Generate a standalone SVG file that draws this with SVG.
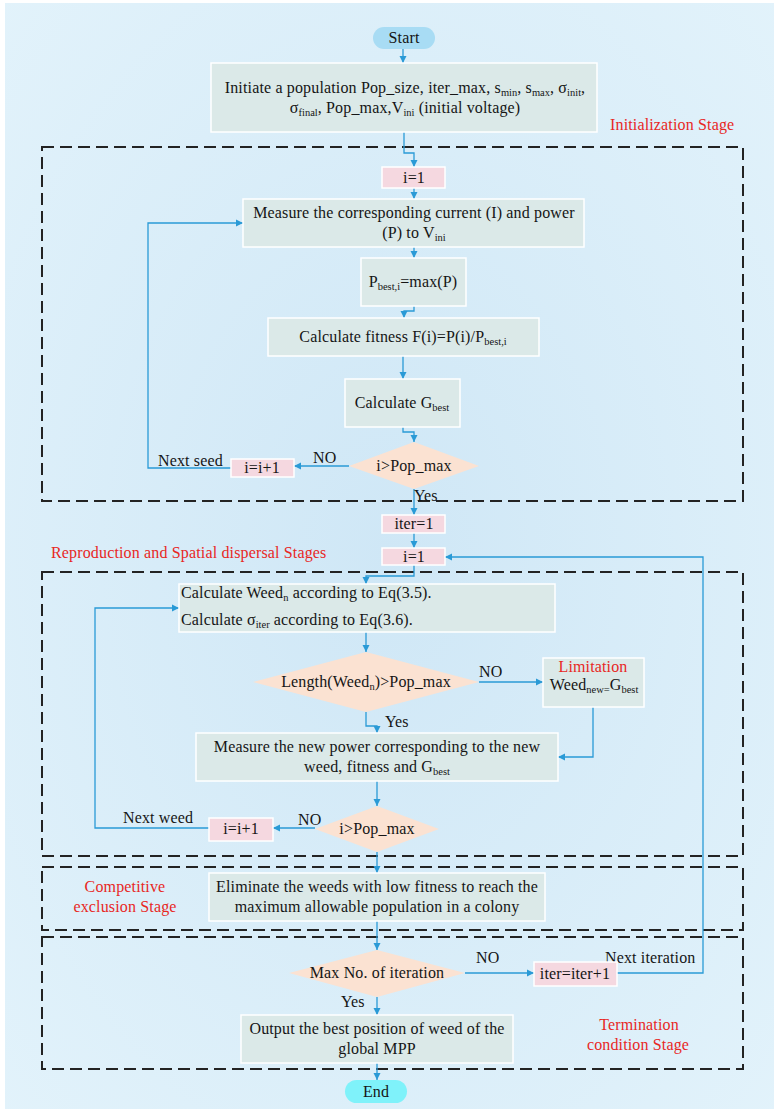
<svg xmlns="http://www.w3.org/2000/svg" width="774" height="1109" viewBox="0 0 774 1109">
<defs>
<radialGradient id="bg" cx="0.5" cy="0.5" r="0.75">
<stop offset="0" stop-color="#cfe7f6"/>
<stop offset="1" stop-color="#e3f3fb"/>
</radialGradient>
<marker id="ah" markerWidth="8" markerHeight="8" refX="7" refY="4" orient="auto" markerUnits="userSpaceOnUse">
<path d="M0,0.5 L7,4 L0,7.5 Z" fill="#2a9ad6"/>
</marker>
<style>
.t{font-family:'Liberation Serif','Tinos','Times New Roman','DejaVu Serif',serif;font-size:16px;letter-spacing:0.15px;fill:#151515}
.c{text-anchor:middle}
.r{fill:#e8271f}
.sub{font-size:10.5px;letter-spacing:0}
.box{fill:#dbe9e8;stroke:#ffffff;stroke-width:1.5}
.dia{fill:#fbe2d2;stroke:none}
.pink{fill:#f5d8e0;stroke:#ffffff;stroke-width:1.5}
.dash{fill:none;stroke:#232323;stroke-width:2;stroke-dasharray:12 6}
.con{fill:none;stroke:#2a9ad6;stroke-width:1.3}
</style>
</defs>
<rect x="0" y="0" width="774" height="1109" fill="#ffffff"/>
<rect x="5" y="3" width="769" height="1106" fill="url(#bg)"/>

<g id="stages">
<rect class="dash" x="42" y="147" width="701" height="354"/>
<rect class="dash" x="42" y="572" width="701" height="284"/>
<rect class="dash" x="42" y="867" width="701" height="63"/>
<rect class="dash" x="42" y="937" width="701" height="132"/>
<text class="t r" x="610" y="130">Initialization Stage</text>
<text class="t r" x="51" y="558">Reproduction and Spatial dispersal Stages</text>
<text class="t r c" x="125" y="892">Competitive</text>
<text class="t r c" x="125" y="912">exclusion Stage</text>
<text class="t r c" x="639" y="1030">Termination</text>
<text class="t r c" x="638" y="1050">condition Stage</text>
</g>

<g id="connectors">
<path class="con" marker-end="url(#ah)" d="M403 49 V63"/>
<path class="con" marker-end="url(#ah)" d="M404 132 V153 H414 V167"/>
<path class="con" marker-end="url(#ah)" d="M414 188 V199"/>
<path class="con" marker-end="url(#ah)" d="M414 247 V258"/>
<path class="con" marker-end="url(#ah)" d="M414 306 V311 H404 V318"/>
<path class="con" marker-end="url(#ah)" d="M403 356 V379"/>
<path class="con" marker-end="url(#ah)" d="M403 427 V432 H414 V442"/>
<path class="con" marker-end="url(#ah)" d="M349 466 H294"/>
<path class="con" marker-end="url(#ah)" d="M231 468 H148 V223 H243"/>
<path class="con" marker-end="url(#ah)" d="M414 489 V515"/>
<path class="con" marker-end="url(#ah)" d="M414 533 V548"/>
<path class="con" marker-end="url(#ah)" d="M414 565 V576 H366 V584"/>
<path class="con" marker-end="url(#ah)" d="M209 828 H95 V608 H179"/>
<path class="con" marker-end="url(#ah)" d="M366 632 V652"/>
<path class="con" marker-end="url(#ah)" d="M479 682 H543"/>
<path class="con" marker-end="url(#ah)" d="M593 707 V757 H558"/>
<path class="con" marker-end="url(#ah)" d="M366 712 V726 H377 V733"/>
<path class="con" marker-end="url(#ah)" d="M377 781 V806"/>
<path class="con" marker-end="url(#ah)" d="M315 828 H273"/>
<path class="con" marker-end="url(#ah)" d="M377 852 V873"/>
<path class="con" marker-end="url(#ah)" d="M377 921 V950"/>
<path class="con" marker-end="url(#ah)" d="M465 973 H534"/>
<path class="con" marker-end="url(#ah)" d="M617 973 H703 V557 H445"/>
<path class="con" marker-end="url(#ah)" d="M377 997 V1015"/>
<path class="con" marker-end="url(#ah)" d="M377 1063 V1080"/>
<text class="t" x="313" y="463">NO</text>
<text class="t" x="158" y="466">Next seed</text>
<text class="t" x="414" y="501">Yes</text>
<text class="t" x="479" y="677">NO</text>
<text class="t" x="385" y="727">Yes</text>
<text class="t" x="298" y="825">NO</text>
<text class="t" x="123" y="823">Next weed</text>
<text class="t" x="476" y="963">NO</text>
<text class="t" x="605" y="963">Next iteration</text>
<text class="t" x="341" y="1007">Yes</text>
</g>

<g id="start">
<rect x="373" y="27" width="62" height="22" rx="11" fill="#a8dcf4"/>
<text class="t c" x="404" y="43">Start</text>
</g>

<g id="init">
<rect class="box" x="211" y="63" width="386" height="69"/>
<text class="t c" x="405" y="93">Initiate a population Pop_size, iter_max, s<tspan class="sub" dy="3">min</tspan><tspan dy="-3">,  s</tspan><tspan class="sub" dy="3">max</tspan><tspan dy="-3">, σ</tspan><tspan class="sub" dy="3">init</tspan><tspan dy="-3">,</tspan></text>
<text class="t c" x="405" y="113">σ<tspan class="sub" dy="3">final</tspan><tspan dy="-3">, Pop_max,V</tspan><tspan class="sub" dy="3">ini</tspan><tspan dy="-3"> (initial voltage)</tspan></text>
</g>

<g id="i1a">
<rect class="pink" x="382" y="167" width="63" height="21"/>
<text class="t c" x="414" y="183">i=1</text>
</g>

<g id="measure">
<rect class="box" x="243" y="199" width="341" height="48"/>
<text class="t c" x="414" y="218">Measure the corresponding current (I) and power</text>
<text class="t c" x="414" y="238">(P) to V<tspan class="sub" dy="3">ini</tspan></text>
</g>

<g id="pbest">
<rect class="box" x="361" y="258" width="105" height="48"/>
<text class="t c" x="413" y="287">P<tspan class="sub" dy="3">best,i</tspan><tspan dy="-3">=max(P)</tspan></text>
</g>

<g id="fitness">
<rect class="box" x="268" y="318" width="271" height="38"/>
<text class="t c" x="403" y="342">Calculate fitness F(i)=P(i)/P<tspan class="sub" dy="3">best,i</tspan></text>
</g>

<g id="gbest">
<rect class="box" x="345" y="379" width="115" height="48"/>
<text class="t c" x="402" y="408">Calculate G<tspan class="sub" dy="3">best</tspan></text>
</g>

<g id="dec1">
<polygon class="dia" points="414,442 479,466 414,489 349,466"/>
<text class="t c" x="414" y="471">i&gt;Pop_max</text>
</g>

<g id="inc1">
<rect class="pink" x="231" y="459" width="63" height="18"/>
<text class="t c" x="262" y="473">i=i+1</text>
</g>

<g id="iter1">
<rect class="pink" x="382" y="515" width="63" height="18"/>
<text class="t c" x="414" y="529">iter=1</text>
</g>

<g id="i1b">
<rect class="pink" x="382" y="548" width="63" height="17"/>
<text class="t c" x="414" y="562">i=1</text>
</g>

<g id="calc">
<rect class="box" x="179" y="584" width="376" height="48"/>
<text class="t" x="181" y="598">Calculate Weed<tspan class="sub" dy="3">n</tspan><tspan dy="-3"> according to Eq(3.5).</tspan></text>
<text class="t" x="181" y="625">Calculate σ<tspan class="sub" dy="3">iter</tspan><tspan dy="-3"> according to Eq(3.6).</tspan></text>
</g>

<g id="dec2">
<polygon class="dia" points="366,652 479,682 366,712 253,682"/>
<text class="t c" x="366" y="687">Length(Weed<tspan class="sub" dy="3">n</tspan><tspan dy="-3">)&gt;Pop_max</tspan></text>
</g>

<g id="limit">
<rect class="box" x="543" y="658" width="101" height="49"/>
<text class="t r c" x="593" y="672">Limitation</text>
<text class="t c" x="594" y="690">Weed<tspan class="sub" dy="3">new=</tspan><tspan dy="-3">G</tspan><tspan class="sub" dy="3">best</tspan></text>
</g>

<g id="measure2">
<rect class="box" x="196" y="733" width="362" height="48"/>
<text class="t c" x="377" y="752">Measure the new power corresponding to the new</text>
<text class="t c" x="377" y="772">weed, fitness and G<tspan class="sub" dy="3">best</tspan></text>
</g>

<g id="dec3">
<polygon class="dia" points="377,806 439,829 377,852 315,829"/>
<text class="t c" x="377" y="834">i&gt;Pop_max</text>
</g>

<g id="inc2">
<rect class="pink" x="209" y="818" width="64" height="23"/>
<text class="t c" x="241" y="834">i=i+1</text>
</g>

<g id="elim">
<rect class="box" x="209" y="873" width="336" height="48"/>
<text class="t c" x="377" y="892">Eliminate the weeds with low fitness to reach the</text>
<text class="t c" x="377" y="912">maximum allowable population in a colony</text>
</g>

<g id="dec4">
<polygon class="dia" points="377,950 465,973 377,997 289,973"/>
<text class="t c" x="377" y="978">Max No. of iteration</text>
</g>

<g id="iterinc">
<rect class="pink" x="534" y="962" width="83" height="24"/>
<text class="t c" x="575" y="979">iter=iter+1</text>
</g>

<g id="output">
<rect class="box" x="241" y="1015" width="272" height="48"/>
<text class="t c" x="377" y="1034">Output the best position of weed of the</text>
<text class="t c" x="377" y="1054">global MPP</text>
</g>

<g id="end">
<rect x="345" y="1080" width="62" height="23" rx="11.5" fill="#7ff2fa"/>
<text class="t c" x="376" y="1097">End</text>
</g>
</svg>
